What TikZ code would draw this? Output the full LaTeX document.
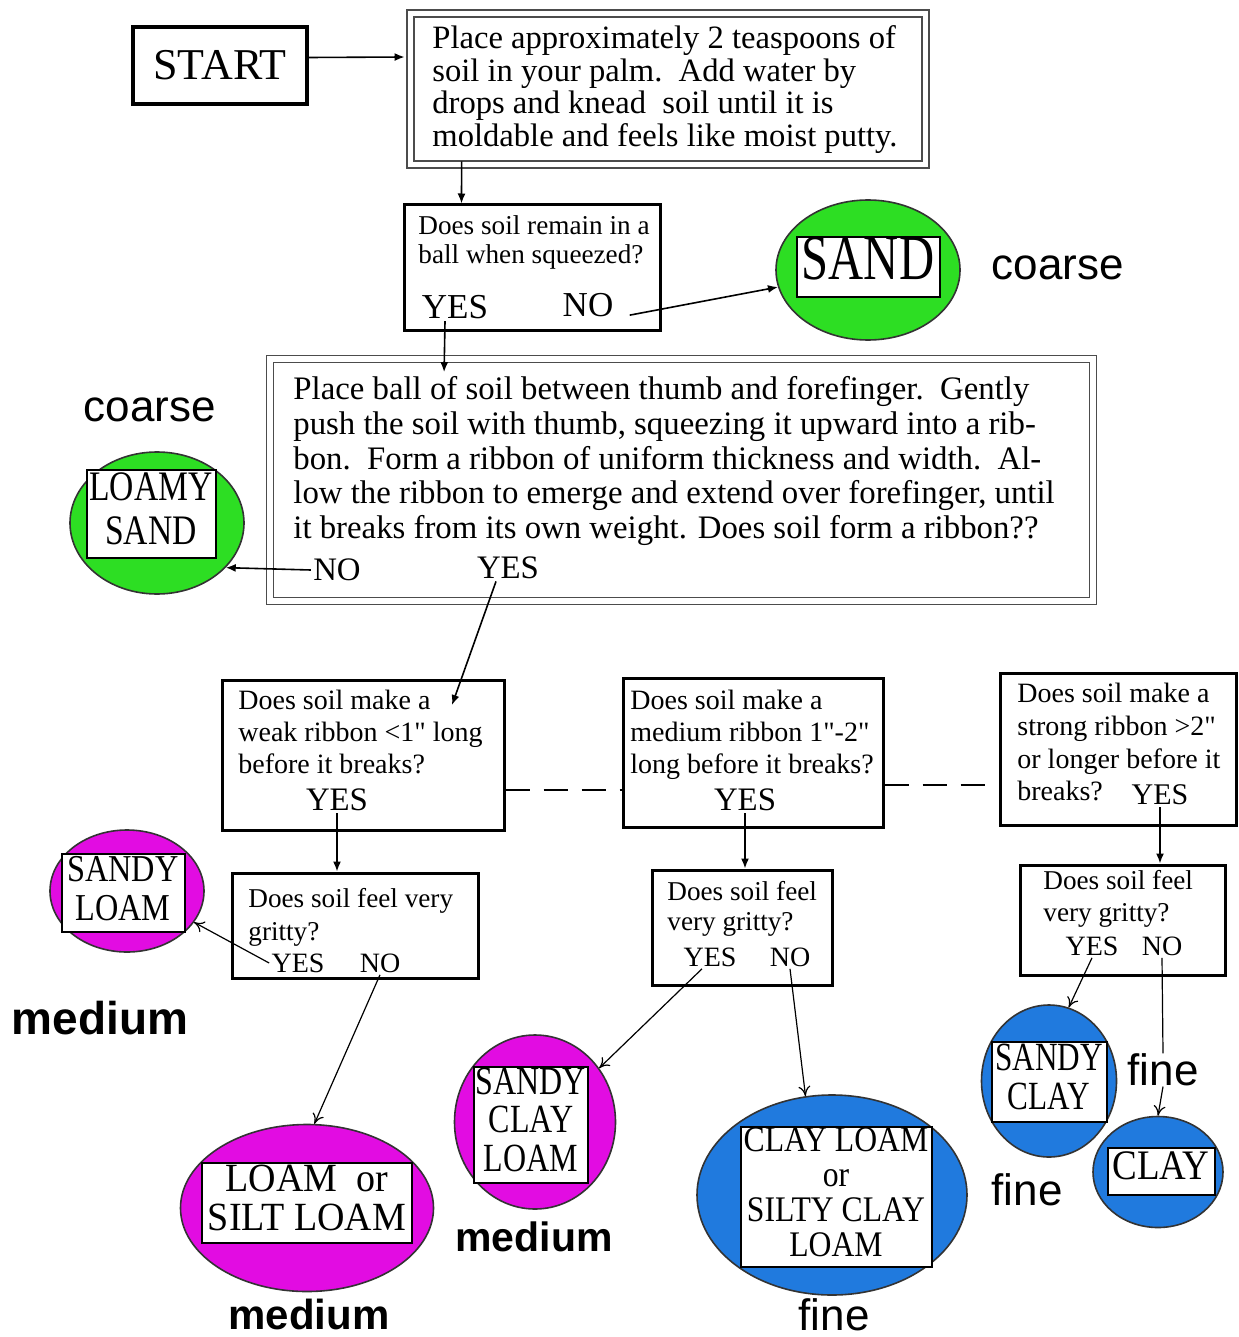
\documentclass[tikz,border=0pt]{standalone}
\usepackage{fontspec}
\setmainfont{Liberation Serif}
\setsansfont{Liberation Sans}
\usepackage{graphicx}
\usepackage{tikz}
\usetikzlibrary{arrows.meta, shapes.geometric, calc}

\definecolor{verde}{RGB}{45,222,35}
\definecolor{magenta}{RGB}{226,12,226}
\definecolor{blu}{RGB}{32,122,222}

% testo stretto dentro le targhe
\newcommand{\etichetta}[4]{\scalebox{#3}[1]{\fontsize{#1}{#2}\selectfont\begin{tabular}{@{}c@{}}#4\end{tabular}}}
\newcommand{\pollici}{\textquotedbl}

\begin{document}
\begin{tikzpicture}[x=0.5pt, y=-0.5pt,
		riquadro/.style={draw, line width=1.5pt, inner sep=0pt},
		doppio/.style={draw=black!70, double, double distance=2.6pt, line width=.9pt, inner sep=0pt},
		testo/.style={anchor=north west, inner sep=0pt, align=left},
		risposta/.style={inner sep=1pt},
		suolo/.style={ellipse, draw=black!80, line width=.8pt, inner sep=0pt},
		targa/.style={draw, fill=white, line width=1pt, inner sep=0pt},
		classe/.style={inner sep=0pt, font=\sffamily\fontsize{22}{24}\selectfont},
		classeb/.style={inner sep=0pt, font=\sffamily\bfseries\fontsize{#1}{24}\selectfont},
		freccia/.style={line width=.8pt, -{Latex[length=5pt, width=4pt]}},
		freccina/.style={line width=.6pt, -{To[length=5pt, width=6pt]}},
		tratteggio/.style={line width=1pt, dash pattern=on 12pt off 7pt}]
		%%%	Help Lines
%		\draw [thin, help lines] (0,0) grid[step=100] (1238,1337);
%		\foreach \x in {0,100,...,1200}
%		\node [anchor=north] at (\x,0) {$\x$};
		\useasboundingbox (0,0) rectangle (1238,1337);
		
		%%% Riquadri in alto
		\node [riquadro, line width=1.8pt, minimum width=87pt, minimum height=38.5pt, font=\fontsize{22}{24}\selectfont] (start) at (220,65.5) {START};
		\node [doppio, minimum width=257.5pt, minimum height=75.5pt] (impasto) at (668,89) {};
		\node [testo, font=\fontsize{16.3}{16.35}\selectfont] (impastotxt) at (432,25) {Place approximately 2 teaspoons of\\ soil in your palm.\ \ Add water by\\ drops and knead\ \ soil until it is\\ moldable and feels like moist putty.};
		
		\node [riquadro, minimum width=128pt, minimum height=62.5pt] (palla) at (532,267.5) {};
		\node [testo, font=\fontsize{13.6}{14.5}\selectfont] (pallatxt) at (418,215) {Does soil remain in a\\ ball when squeezed?};
		\node [risposta, font=\fontsize{17.5}{19}\selectfont] (pallasi) at (455,307) {YES};
		\node [risposta, font=\fontsize{17.5}{19}\selectfont] (pallano) at (588,305) {NO};
		
		\node [suolo, fill=verde, minimum width=92pt, minimum height=70pt] (sabbia) at (868,270) {};
		\node [targa, minimum width=71.5pt, minimum height=29pt] (sabbiatg) at (868,267) {\etichetta{32}{29}{.76}{SAND}};
		\node [classe] (grossa1) at (1058,268) {coarse};
		
		\node [doppio, minimum width=411.5pt, minimum height=121pt] (nastro) at (681.5,480) {};
		\node [testo, font=\fontsize{16.4}{17.4}\selectfont] (nastrotxt) at (293,376) {Place ball of soil between thumb and forefinger.\ \ Gently\\ push the soil with thumb, squeezing it upward into a rib-\\ bon.\ \ Form a ribbon of uniform thickness and width.\ \ Al-\\ low the ribbon to emerge and extend over forefinger, until\\ it breaks from its own weight. Does soil form a ribbon??};
		\node [risposta, font=\fontsize{16.4}{18}\selectfont] (nastrono) at (337,570) {NO};
		\node [risposta, font=\fontsize{16.4}{18}\selectfont] (nastrosi) at (508,568) {YES};
		
		\node [classe] (grossa2) at (150,410) {coarse};
		\node [suolo, fill=verde, minimum width=87pt, minimum height=71pt] (sabbiafr) at (157,523) {};
		\node [targa, minimum width=64.5pt, minimum height=44pt] (sabbiafrtg) at (151,514) {\etichetta{21}{22}{.8}{LOAMY\\SAND}};
		
		%%% Nastri
		\node [riquadro, minimum width=141pt, minimum height=75pt] (debole) at (363,755) {};
		\node [testo, font=\fontsize{14}{15.8}\selectfont] (deboletxt) at (238,690) {Does soil make a\\ weak ribbon <1\pollici{} long\\ before it breaks?};
		\node [risposta, font=\fontsize{16.4}{18}\selectfont] (debolesi) at (337,800) {YES};
		\coordinate (ingresso) at (452,705);	% punto d'arrivo della freccia
		
		\node [riquadro, minimum width=130pt, minimum height=74.5pt] (medio) at (753,752.5) {};
		\node [testo, font=\fontsize{14}{15.8}\selectfont] (mediotxt) at (630,690) {Does soil make a\\ medium ribbon 1\pollici-2\pollici\\ long before it breaks?};
		\node [risposta, font=\fontsize{16.4}{18}\selectfont] (mediosi) at (745,800) {YES};
		
		\node [riquadro, minimum width=118pt, minimum height=76pt] (forte) at (1118,749) {};
		\node [testo, font=\fontsize{14}{16.3}\selectfont] (fortetxt) at (1017,683) {Does soil make a\\ strong ribbon >2\pollici\\ or longer before it\\ breaks?};
		\node [risposta, font=\fontsize{15}{16}\selectfont] (fortesi) at (1160,795) {YES};
		
		%%% Ruvidezza
		\node [riquadro, minimum width=123pt, minimum height=52.5pt] (ruvidoA) at (355,925.5) {};
		\node [testo, font=\fontsize{13.6}{16.5}\selectfont] (ruvidoAtxt) at (248,888) {Does soil feel very\\ gritty?};
		\node [risposta, font=\fontsize{14}{15}\selectfont] (ruvidoAsi) at (298,963) {YES};
		\node [risposta, font=\fontsize{14}{15}\selectfont] (ruvidoAno) at (380,963) {NO};
		
		\node [riquadro, minimum width=90pt, minimum height=57.5pt] (ruvidoB) at (742,927.5) {};
		\node [testo, font=\fontsize{13.6}{15}\selectfont] (ruvidoBtxt) at (667,881) {Does soil feel\\ very gritty?};
		\node [risposta, font=\fontsize{14}{15}\selectfont] (ruvidoBsi) at (710,957) {YES};
		\node [risposta, font=\fontsize{14}{15}\selectfont] (ruvidoBno) at (790,957) {NO};
		
		\node [riquadro, minimum width=102.5pt, minimum height=55pt] (ruvidoC) at (1122.5,920) {};
		\node [testo, font=\fontsize{13.6}{16}\selectfont] (ruvidoCtxt) at (1043,870) {Does soil feel\\ very gritty?};
		\node [risposta, font=\fontsize{14}{15}\selectfont] (ruvidoCsi) at (1092,946) {YES};
		\node [risposta, font=\fontsize{14}{15}\selectfont] (ruvidoCno) at (1162,946) {NO};
		
		%%% Classi di tessitura
		\node [suolo, fill=magenta, minimum width=77pt, minimum height=61pt] (francosab) at (127,891) {};
		\node [targa, minimum width=61.5pt, minimum height=38.5pt] (francosabtg) at (123,893) {\etichetta{19}{19.5}{.85}{SANDY\\LOAM}};
		\node [classeb=23] (medio1) at (100,1018) {medium};
		
		\node [suolo, fill=magenta, minimum width=126.5pt, minimum height=83.5pt] (franco) at (307,1208) {};
		\node [targa, minimum width=105pt, minimum height=40pt] (francotg) at (307,1203) {\etichetta{20}{19.5}{.95}{LOAM\ \ or\\SILT LOAM}};
		\node [classeb=21] (medio2) at (309,1314) {medium};
		
		\node [suolo, fill=magenta, minimum width=80.5pt, minimum height=87pt] (francoargsab) at (535,1122) {};
		\node [targa, minimum width=57pt, minimum height=58pt] (francoargsabtg) at (531,1125) {\etichetta{20}{19.3}{.8}{SANDY\\CLAY\\LOAM}};
		\node [classeb=20.5] (medio3) at (534,1237) {medium};
		
		\node [suolo, fill=blu, minimum width=135pt, minimum height=100pt] (francoarg) at (832,1195) {};
		\node [targa, minimum width=95.5pt, minimum height=70pt] (francoargtg) at (836,1197) {\etichetta{18}{17.5}{.88}{CLAY LOAM\\or\\SILTY CLAY\\LOAM}};
		\node [classe] (fine1) at (834,1315) {fine};
		
		\node [suolo, fill=blu, minimum width=67.5pt, minimum height=76pt] (argsab) at (1049,1081) {};
		\node [targa, minimum width=57.5pt, minimum height=40pt] (argsabtg) at (1049,1082) {\etichetta{20}{19.5}{.78}{SANDY\\CLAY}};
		\node [classe] (fine2) at (1163,1070) {fine};
		\node [classe] (fine3) at (1027,1190) {fine};
		
		\node [suolo, fill=blu, minimum width=65pt, minimum height=55.5pt] (argilla) at (1158,1172) {};
		\node [targa, minimum width=53.5pt, minimum height=23.5pt] (argillatg) at (1161,1171) {\etichetta{21}{21.5}{.88}{CLAY}};
		
		%%% Collegamenti
		\draw [freccia] ($(start.east)+(0,-8)$) -- ($(impasto.west)+(-5,-32)$);
		\draw [freccia] ($(impasto.south west)+(52,-4)$) -- ($(palla.north west)+(59,0)$);
		\draw [freccia] ($(pallano.south east)+(14,-4)$) -- (sabbia);
		\draw [freccia] ($(pallasi.south)+(-10,0)$) -- ($(nastro.north west)+(175,14)$);
		\draw [freccia] (nastrono.west) -- (sabbiafr.-33);
		\draw [freccia] ($(nastrosi.south)+(-12,0)$) -- (ingresso);
		
		\draw [tratteggio] ($(debole.east)+(0,35)$) -- ($(medio.west)+(0,37.5)$);
		\draw [tratteggio] ($(medio.east)+(0,32.5)$) -- ($(forte.west)+(0,36)$);
		
		\draw [freccia] (debolesi.south) -- (debolesi.south |- ruvidoA.north);
		\draw [freccia] (mediosi.south) -- (mediosi.south |- ruvidoB.north);
		\draw [freccia] (fortesi.south) -- (fortesi.south |- ruvidoC.north);
		
		\draw [freccina] (ruvidoAsi.west) -- (francosab.-25);
		\draw [freccina] (ruvidoAno.south) -- (franco.85);
		\draw [freccina] ($(ruvidoBsi.south)+(-8,0)$) -- (francoargsab.40);
		\draw [freccina] (ruvidoBno.south) -- (francoarg.105);
		\draw [freccina] (ruvidoCsi.south) -- (argsab.75);
		\draw [line width=.6pt] (ruvidoCno.south) -- (fine2.north);
		\draw [freccina] (fine2.south) -- (argilla.north);
	\end{tikzpicture}
\end{document}
